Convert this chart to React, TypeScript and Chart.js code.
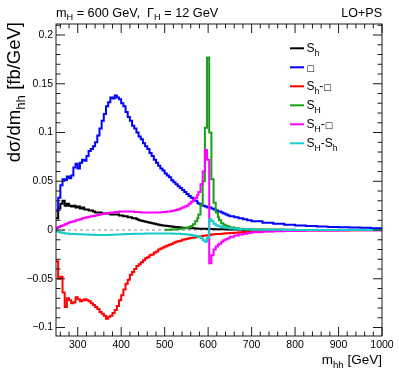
import React, { useEffect, useRef } from "react";
import { Chart, registerables } from "chart.js";

Chart.register(...registerables);

// Bin left edges (GeV); the last value closes the final bin
const BIN_EDGES = [
  250, 255, 260, 265, 270, 275, 280, 285, 290, 295, 300, 305, 310, 315, 320, 325, 330, 335,
  340, 345, 350, 355, 360, 365, 370, 375, 380, 385, 390, 395, 400, 405, 410, 415, 420, 425,
  430, 435, 440, 445, 450, 455, 460, 465, 470, 475, 480, 485, 490, 495, 500, 505, 510, 515,
  520, 525, 530, 535, 540, 545, 550, 555, 560, 565, 570, 575,
  577.5, 582.5, 587.5, 592.5, 597.5, 602.5, 607.5, 612.5, 617.5, 622.5,
  625, 630, 635, 640, 645, 650, 660, 670, 680, 690,
  700, 725, 750, 775, 800, 825, 850, 875, 900, 925, 950, 975, 1000,
];

// dσ/dm_hh [fb/GeV] per bin
const S_h = [
  0.012, 0.022, 0.027, 0.030, 0.025, 0.027, 0.025, 0.024, 0.025, 0.023, 0.024, 0.022, 0.023,
  0.021, 0.021, 0.020, 0.020, 0.019, 0.018, 0.018, 0.018, 0.017, 0.017, 0.017, 0.017, 0.016,
  0.016, 0.016, 0.016, 0.015, 0.015, 0.014, 0.014, 0.013, 0.013, 0.012, 0.012, 0.011, 0.010,
  0.0095, 0.009, 0.0085, 0.008, 0.0075, 0.007, 0.0065, 0.006, 0.0055, 0.005, 0.0047, 0.0044,
  0.0041, 0.0038, 0.0035, 0.0032, 0.003, 0.0028, 0.0026, 0.0024, 0.0022, 0.002, 0.0019,
  0.0018, 0.0017, 0.0016, 0.0015, 0.0014, 0.0013, 0.0012, 0.0012, 0.0011, 0.001, 0.001,
  0.0009, 0.0009, 0.0008, 0.0008, 0.0008, 0.0007, 0.0007, 0.0006, 0.0006, 0.0005, 0.0005,
  0.0004, 0.0004, 0.0003, 0.0003, 0.0002, 0.0002, 0.0001, 0.0001, 0.0001, 0.0001, 0.0001,
  0.0001, 0.0001, 0.0001,
];
const BOX = [
  0.020, 0.033, 0.046, 0.052, 0.051, 0.055, 0.053, 0.056, 0.064, 0.068, 0.063, 0.069, 0.072,
  0.071, 0.076, 0.081, 0.083, 0.086, 0.090, 0.097, 0.104, 0.112, 0.119, 0.127, 0.131, 0.136,
  0.135, 0.138, 0.136, 0.134, 0.130, 0.127, 0.121, 0.116, 0.112, 0.107, 0.104, 0.100, 0.096,
  0.093, 0.089, 0.086, 0.083, 0.079, 0.076, 0.072, 0.069, 0.066, 0.063, 0.061, 0.058, 0.056,
  0.054, 0.051, 0.049, 0.047, 0.045, 0.043, 0.041, 0.039, 0.037, 0.035, 0.033, 0.031, 0.030,
  0.028, 0.027, 0.026, 0.025, 0.024, 0.023, 0.023, 0.022, 0.021, 0.020, 0.019, 0.019, 0.018,
  0.017, 0.016, 0.015, 0.014, 0.013, 0.012, 0.011, 0.010, 0.009, 0.0075, 0.0064, 0.0055,
  0.0047, 0.0041, 0.0036, 0.0032, 0.0028, 0.0025, 0.0022, 0.0019,
];
const S_h_BOX = [
  -0.032, -0.050, -0.048, -0.064, -0.079, -0.070, -0.072, -0.075, -0.074, -0.069, -0.071,
  -0.073, -0.072, -0.071, -0.072, -0.073, -0.075, -0.077, -0.079, -0.081, -0.084, -0.086,
  -0.088, -0.091, -0.089, -0.088, -0.085, -0.082, -0.078, -0.072, -0.067, -0.061, -0.055,
  -0.051, -0.046, -0.043, -0.040, -0.037, -0.035, -0.033, -0.031, -0.029, -0.028, -0.026,
  -0.025, -0.023, -0.022, -0.020, -0.019, -0.018, -0.017, -0.016, -0.015, -0.014, -0.013,
  -0.012, -0.0115, -0.011, -0.010, -0.0095, -0.009, -0.0085, -0.008, -0.0077, -0.0073,
  -0.007, -0.0067, -0.0063, -0.006, -0.0057, -0.0053, -0.005, -0.0047, -0.0044, -0.0042,
  -0.004, -0.004, -0.0038, -0.0036, -0.0034, -0.0032, -0.003, -0.0027, -0.0024, -0.0021,
  -0.0018, -0.0015, -0.0012, -0.001, -0.0008, -0.0007, -0.0006, -0.0005, -0.0004, -0.0004,
  -0.0003, -0.0003, -0.0002,
];
const S_H = [
  null, null, null, null, null, null, null, null, null, null, null, null, null, null, null,
  null, null, null, null, null, null, null, null, null, null, null, null, null, null, null,
  null, null, null, null, null, null, null, null, null, null, null, null, null, null, null,
  null, null, null, null, null,
  0.0002, 0.0003, 0.0004, 0.0005, 0.0006, 0.0008, 0.001, 0.0012, 0.0015, 0.0018, 0.002,
  0.003, 0.004, 0.006, 0.009, 0.012, 0.016, 0.026, 0.050, 0.105, 0.177, 0.100, 0.052, 0.028,
  0.018, 0.013, 0.010, 0.007, 0.0055, 0.0045, 0.0035, 0.0025, 0.0018, 0.0013, 0.001, 0.0008,
  0.0005, 0.0003, 0.0002, 0.0001, 0.0001, 0.0001, 0.0001, 0.0001, 0.0001, 0.0001, 0.0001,
  0.0001,
];
const S_H_BOX = [
  0.002, 0.003, 0.004, 0.005, 0.006, 0.007, 0.008, 0.0085, 0.009, 0.010, 0.0105, 0.011, 0.012,
  0.0125, 0.013, 0.0135, 0.014, 0.0145, 0.015, 0.0155, 0.016, 0.0165, 0.017, 0.017, 0.0175,
  0.018, 0.018, 0.0185, 0.0185, 0.019, 0.019, 0.019, 0.019, 0.019, 0.019, 0.019, 0.0185,
  0.0185, 0.0185, 0.018, 0.018, 0.018, 0.018, 0.018, 0.018, 0.018, 0.018, 0.018, 0.0182,
  0.0185, 0.0185, 0.019, 0.019, 0.0195, 0.020, 0.0205, 0.021, 0.022, 0.023, 0.024, 0.025,
  0.027, 0.029, 0.031, 0.033, 0.036, 0.039, 0.047, 0.060, 0.082, 0.072, -0.034, -0.026,
  -0.020, -0.017, -0.015, -0.014, -0.012, -0.0105, -0.0095, -0.0085, -0.007, -0.0055,
  -0.0045, -0.0037, -0.003, -0.0023, -0.0016, -0.0012, -0.0009, -0.0007, -0.0006, -0.0005,
  -0.0004, -0.0003, -0.0003, -0.0002, -0.0002,
];
const S_H_S_h = [
  -0.001, -0.002, -0.0025, -0.003, -0.0035, -0.0035, -0.004, -0.004, -0.004, -0.0042, -0.0043,
  -0.0044, -0.0045, -0.0046, -0.0047, -0.0048, -0.0048, -0.0049, -0.005, -0.005, -0.005,
  -0.005, -0.005, -0.005, -0.005, -0.0049, -0.0048, -0.0047, -0.0046, -0.0045, -0.0044,
  -0.0043, -0.0042, -0.0041, -0.004, -0.004, -0.0039, -0.0038, -0.0038, -0.0037, -0.0037,
  -0.0036, -0.0036, -0.0035, -0.0035, -0.0035, -0.0035, -0.0035, -0.0035, -0.0035, -0.0035,
  -0.0035, -0.0036, -0.0036, -0.0037, -0.0038, -0.0039, -0.004, -0.0042, -0.0044, -0.0046,
  -0.0049, -0.0052, -0.0056, -0.006, -0.0066, -0.0072, -0.0085, -0.0105, -0.012, -0.008,
  0.011, 0.009, 0.0065, 0.005, 0.0042, 0.0038, 0.0032, 0.0027, 0.0023, 0.002, 0.0016, 0.0012,
  0.0009, 0.0007, 0.0005, 0.0004, 0.0003, 0.0002, 0.0001, 0.0001, 0.0001, 0.0001, 0.0001,
  0.0001, 0.0001, 0.0001, 0.0001,
];

const SERIES = [S_h, BOX, S_h_BOX, S_H, S_H_BOX, S_H_S_h];
const SERIES_NAMES = ["S_h", "□", "S_h-□", "S_H", "S_H-□", "S_H-S_h"];
const SERIES_COLORS = ["#000000", "#0000ff", "#ff0000", "#18a018", "#ff00ff", "#18cccc"];

const X_MIN = 250;
const X_MAX = 1000;
const Y_MIN = -0.1087;
const Y_MAX = 0.2113;
const X_TICKS = [300, 400, 500, 600, 700, 800, 900, 1000];
const X_TICK_LABELS = ["300", "400", "500", "600", "700", "800", "900", "1000"];
const X_MINOR_STEP = 20;
const Y_TICKS = [-0.1, -0.05, 0, 0.05, 0.1, 0.15, 0.2];
const Y_TICK_LABELS = ["\u22120.1", "\u22120.05", "0", "0.05", "0.1", "0.15", "0.2"];
const Y_MINOR_STEP = 0.01;

const FONT = "'Liberation Sans', Arial, Helvetica, sans-serif";

type Part = { t: string; s?: "sub" | "box" };

const X_TITLE: Part[] = [{ t: "m" }, { t: "hh", s: "sub" }, { t: " [GeV]" }];
const Y_TITLE: Part[] = [{ t: "d\u03c3/dm" }, { t: "hh", s: "sub" }, { t: " [fb/GeV]" }];
const TOP_LEFT: Part[] = [
  { t: "m" }, { t: "H", s: "sub" }, { t: " = 600 GeV,  \u0393" }, { t: "H", s: "sub" }, { t: " = 12 GeV" },
];
const TOP_RIGHT: Part[] = [{ t: "LO+PS" }];

function nameToParts(name: string): Part[] {
  const out: Part[] = [];
  let i = 0;
  while (i < name.length) {
    const c = name[i];
    if (c === "_") {
      out.push({ t: name[i + 1], s: "sub" });
      i += 2;
    } else if (c === "□") {
      out.push({ t: "□", s: "box" });
      i += 1;
    } else {
      out.push({ t: c });
      i += 1;
    }
  }
  return out;
}

function setFont(ctx: CanvasRenderingContext2D, p: Part, size: number) {
  if (p.s === "sub") ctx.font = `${(size * 0.72).toFixed(2)}px ${FONT}`;
  else if (p.s === "box") ctx.font = `${(size * 0.72).toFixed(2)}px 'DejaVu Sans', sans-serif`;
  else ctx.font = `${size}px ${FONT}`;
}

function richWidth(ctx: CanvasRenderingContext2D, parts: Part[], size: number) {
  let w = 0;
  for (const p of parts) {
    setFont(ctx, p, size);
    w += ctx.measureText(p.t).width;
  }
  return w;
}

function drawRich(ctx: CanvasRenderingContext2D, parts: Part[], x: number, y: number, size: number) {
  let cx = x;
  ctx.textAlign = "left";
  ctx.textBaseline = "alphabetic";
  for (const p of parts) {
    setFont(ctx, p, size);
    const dy = p.s === "sub" ? size * 0.27 : 0;
    ctx.fillText(p.t, cx, y + dy);
    cx += ctx.measureText(p.t).width;
  }
}

const rootPlugin = {
  id: "rootStyle",
  beforeDatasetsDraw(chart: any) {
    const { ctx, chartArea: a, scales } = chart;
    const y0 = scales.y.getPixelForValue(0);
    ctx.save();
    ctx.strokeStyle = "#8c8c8c";
    ctx.lineWidth = 1;
    ctx.setLineDash([3, 3]);
    ctx.beginPath();
    ctx.moveTo(a.left, y0);
    ctx.lineTo(a.right, y0);
    ctx.stroke();
    ctx.restore();
  },
  afterDatasetsDraw(chart: any) {
    const { ctx, chartArea: a, scales } = chart;
    const xs = scales.x;
    const ys = scales.y;
    ctx.save();
    ctx.strokeStyle = "#1a1a1a";
    ctx.lineWidth = 1;
    ctx.strokeRect(a.left, a.top, a.right - a.left, a.bottom - a.top);
    ctx.beginPath();
    const xStart = Math.ceil(X_MIN / X_MINOR_STEP);
    const xEnd = Math.floor(X_MAX / X_MINOR_STEP);
    for (let k = xStart; k <= xEnd; k++) {
      const v = k * X_MINOR_STEP;
      const px = xs.getPixelForValue(v);
      const len = v % 100 === 0 ? 9 : 4.5;
      ctx.moveTo(px, a.bottom);
      ctx.lineTo(px, a.bottom - len);
      ctx.moveTo(px, a.top);
      ctx.lineTo(px, a.top + len);
    }
    const yStart = Math.ceil(Y_MIN / Y_MINOR_STEP);
    const yEnd = Math.floor(Y_MAX / Y_MINOR_STEP);
    for (let k = yStart; k <= yEnd; k++) {
      const v = k * Y_MINOR_STEP;
      const py = ys.getPixelForValue(v);
      const len = k % 5 === 0 ? 9 : 4.5;
      ctx.moveTo(a.left, py);
      ctx.lineTo(a.left + len, py);
      ctx.moveTo(a.right, py);
      ctx.lineTo(a.right - len, py);
    }
    ctx.stroke();
    ctx.restore();
  },
  afterDraw(chart: any) {
    const { ctx, chartArea: a } = chart;
    ctx.save();
    ctx.fillStyle = "#000";
    // axis titles
    const xs = 13.5;
    const xw = richWidth(ctx, X_TITLE, xs);
    drawRich(ctx, X_TITLE, a.right - xw, 364, xs);
    const ysz = 18.5;
    const yw = richWidth(ctx, Y_TITLE, ysz);
    ctx.save();
    ctx.translate(20, a.top - 2);
    ctx.rotate(-Math.PI / 2);
    drawRich(ctx, Y_TITLE, -yw, 0, ysz);
    ctx.restore();
    // header texts
    drawRich(ctx, TOP_LEFT, a.left, 16.5, 12.7);
    const rw = richWidth(ctx, TOP_RIGHT, 12.5);
    drawRich(ctx, TOP_RIGHT, a.right - rw, 16.5, 12.5);
    // legend
    SERIES_NAMES.forEach((name, i) => {
      const cy = 48.3 + i * 19;
      ctx.strokeStyle = SERIES_COLORS[i];
      ctx.lineWidth = 2;
      ctx.beginPath();
      ctx.moveTo(290, cy);
      ctx.lineTo(304, cy);
      ctx.stroke();
      ctx.fillStyle = "#000";
      drawRich(ctx, nameToParts(name), 306.5, cy + 4, 12);
    });
    ctx.restore();
  },
};

export default function App() {
  const ref = useRef<HTMLCanvasElement | null>(null);
  useEffect(() => {
    const canvas = ref.current;
    if (!canvas) return;
    const datasets = SERIES.map((vals, i) => ({
      label: SERIES_NAMES[i],
      data: BIN_EDGES.map((x, j) => ({ x, y: j < vals.length ? vals[j] : vals[vals.length - 1] })),
      borderColor: SERIES_COLORS[i],
      backgroundColor: SERIES_COLORS[i],
      borderWidth: 2,
      pointRadius: 0,
      stepped: true as const,
      fill: false,
      spanGaps: false,
      order: SERIES.length - i,
    }));
    const chart = new Chart(canvas, {
      type: "line",
      data: { datasets },
      plugins: [rootPlugin],
      options: {
        animation: false,
        responsive: false,
        devicePixelRatio: 1,
        layout: { padding: { top: 24, right: 17, left: 0, bottom: 0 } },
        plugins: { legend: { display: false }, tooltip: { enabled: false } },
        scales: {
          x: {
            type: "linear",
            min: X_MIN,
            max: X_MAX,
            grid: { display: false, drawTicks: false },
            border: { display: false },
            afterBuildTicks: (s: any) => {
              s.ticks = X_TICKS.map((v) => ({ value: v }));
            },
            afterFit: (s: any) => {
              s.height = 47;
            },
            ticks: {
              autoSkip: false,
              maxRotation: 0,
              padding: 3,
              color: "#000",
              font: { family: FONT, size: 10.5 },
              callback: (_v: any, i: number) => X_TICK_LABELS[i],
            },
          },
          y: {
            type: "linear",
            min: Y_MIN,
            max: Y_MAX,
            grid: { display: false, drawTicks: false },
            border: { display: false },
            afterBuildTicks: (s: any) => {
              s.ticks = Y_TICKS.map((v) => ({ value: v }));
            },
            afterFit: (s: any) => {
              s.width = 56;
            },
            ticks: {
              autoSkip: false,
              padding: 3,
              color: "#000",
              font: { family: FONT, size: 10.5 },
              callback: (_v: any, i: number) => Y_TICK_LABELS[i],
            },
          },
        },
      },
    });
    return () => chart.destroy();
  }, []);
  return (
    <div style={{ position: "absolute", left: 0, top: 0, width: 399, height: 383, background: "#fff" }}>
      <canvas ref={ref} width={399} height={383} style={{ display: "block", width: 399, height: 383 }} />
    </div>
  );
}
